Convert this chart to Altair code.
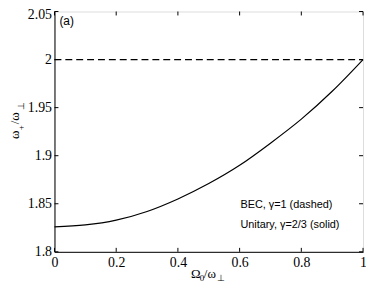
import altair as alt
import pandas as pd

# data
omega0 = [0.0, 0.1, 0.2, 0.3, 0.4, 0.5, 0.6, 0.7, 0.8, 0.9, 1.0]
unitary = [1.826, 1.828, 1.833, 1.842, 1.855, 1.871, 1.890, 1.913, 1.938, 1.967, 2.000]
bec_x = [0.0, 1.0]
bec_y = [2.0, 2.0]
x_ticks = [0, 0.2, 0.4, 0.6, 0.8, 1.0]
y_ticks = [1.8, 1.85, 1.9, 1.95, 2.0, 2.05]

W, H = 312, 243
TL = 4
serif = "Liberation Serif"
sans = "Liberation Sans"

xs = alt.Scale(domain=[0, 1], nice=False)
ys = alt.Scale(domain=[1.8, 2.05], nice=False)

xaxis = alt.Axis(values=x_ticks, format="~g", ticks=False, grid=False, title=None,
                 labelFont=serif, labelFontSize=14, labelColor="black", labelPadding=4,
                 domainColor="black", labelFlush=False)
yaxis = alt.Axis(values=y_ticks, format="~g", ticks=False, grid=False, title=None,
                 labelFont=serif, labelFontSize=14, labelColor="black", labelPadding=3,
                 domainColor="black", labelFlush=False,
                 labelOffset={"condition": {"test": "datum.value > 2.04", "value": 3}, "value": 0})

df_u = pd.DataFrame({"x": omega0, "y": unitary})
df_b = pd.DataFrame({"x": bec_x, "y": bec_y})
df_xt = pd.DataFrame({"t": x_ticks})
df_yt = pd.DataFrame({"t": y_ticks})

X = lambda f: alt.X(f, scale=xs, axis=xaxis)
Y = lambda f: alt.Y(f, scale=ys, axis=yaxis)

solid = alt.Chart(df_u).mark_line(color="black", strokeWidth=1.2, interpolate="monotone").encode(
    x=X("x:Q"), y=Y("y:Q"))
dashed = alt.Chart(df_b).mark_line(color="black", strokeWidth=1.2, strokeDash=[7, 4]).encode(
    x=X("x:Q"), y=Y("y:Q"))

xt_bot = alt.Chart(df_xt).mark_rule(color="black").encode(
    x=X("t:Q"), y=alt.value(H), y2=alt.value(H - TL))
xt_top = alt.Chart(df_xt).mark_rule(color="black").encode(
    x=X("t:Q"), y=alt.value(0), y2=alt.value(TL))
yt_left = alt.Chart(df_yt).mark_rule(color="black").encode(
    y=Y("t:Q"), x=alt.value(0), x2=alt.value(TL))
yt_right = alt.Chart(df_yt).mark_rule(color="black").encode(
    y=Y("t:Q"), x=alt.value(W), x2=alt.value(W - TL))


def txt(s, x, y, size, font=serif, angle=0, align="left"):
    return alt.Chart(pd.DataFrame({"s": [s]})).mark_text(
        text=s, font=font, fontSize=size, color="black", align=align,
        baseline="alphabetic", angle=angle).encode(x=alt.value(x), y=alt.value(y))


labels = [
    txt("(a)", 5, 14, 12, font=sans),
    txt("BEC, γ=1 (dashed)", 188, 199, 11, font=sans),
    txt("Unitary, γ=2/3 (solid)", 188, 219, 11, font=sans),
    # x title  Ω0/ω⊥
    txt("Ω", 138, 269, 13),
    txt("0", 147, 273, 9),
    txt("/ω", 151, 269, 13),
    txt("⊥", 164, 273, 9),
    # y title  ω+/ω⊥ (rotated)
    txt("ω", -36, 129, 13, angle=270),
    txt("+", -31, 120, 9, angle=270),
    txt("/ω", -36, 114, 13, angle=270),
    txt("⊥", -31, 100, 9, angle=270),
]

chart = alt.layer(solid, dashed, xt_bot, xt_top, yt_left, yt_right, *labels).properties(
    width=W, height=H,
    autosize=alt.AutoSizeParams(type="none"),
    padding={"left": 47, "top": 2, "right": 3, "bottom": 32},
).configure_view(stroke="black", strokeWidth=1).configure(background="white")

chart.save("out.html", embed_options={"renderer": "svg", "actions": False})
